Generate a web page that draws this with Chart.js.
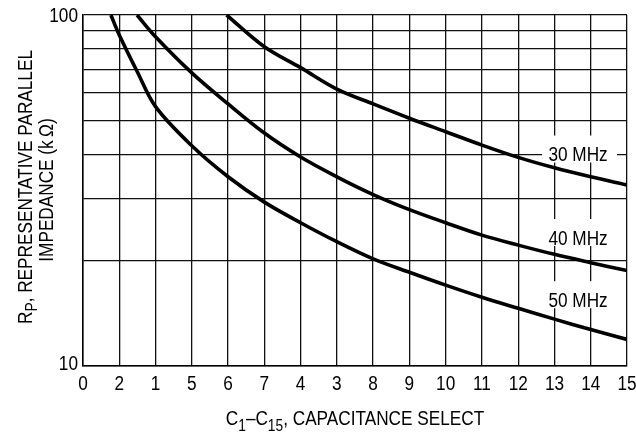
<!DOCTYPE html>
<html>
<head>
<meta charset="utf-8">
<script src="https://cdn.jsdelivr.net/npm/chart.js@4/dist/chart.umd.min.js"></script>
<style>
  html, body { margin: 0; padding: 0; background: #fff; }
  #wrap { width: 636px; height: 432px; }
</style>
</head>
<body>
<div id="wrap"><canvas id="myChart" width="636" height="432"></canvas></div>
<script>
'use strict';

// tick labels along the bottom (printed order from the datasheet)
const xTickLabels = ['0', '2', '1', '5', '6', '7', '4', '3', '8', '9', '10', '11', '12', '13', '14', '15'];
// decade grid of the log axis, only the ends get a label
const yTicks = [10, 20, 30, 40, 50, 60, 70, 80, 90, 100];
const yTickLabels = ['10', '', '', '', '', '', '', '', '', '100'];

// 30 MHz curve
const x30 = [3.96, 5, 6, 7, 8, 9, 10, 11, 12, 13, 14, 15];
const rp30 = [100, 81.2, 70.8, 61.5, 55.8, 50.8, 46.5, 42.6, 39.3, 36.7, 34.6, 32.8];

// 40 MHz curve
const x40 = [1.49, 2, 3, 4, 5, 6, 7, 8, 9, 10, 11, 12, 13, 14, 15];
const rp40 = [100, 86.7, 68.4, 55.8, 46.1, 39.4, 34.6, 30.8, 27.9, 25.6, 23.6, 22.1, 20.8, 19.7, 18.7];

// 50 MHz curve
const x50 = [0.77, 1, 1.5, 2, 3, 4, 5, 6, 7, 8, 9, 10, 11, 12, 13, 14, 15];
const rp50 = [100, 87.7, 68.8, 54.8, 42.4, 34.6, 29.3, 25.6, 22.6, 20.2, 18.5, 17.0, 15.7, 14.6, 13.6, 12.7, 11.9];

const curveNames = ['30 MHz', '40 MHz', '50 MHz'];
// where each curve name sits (x in chart units, y in kOhm)
const nameX = [13.65, 13.65, 13.65];
const nameY = [40.3, 23.3, 15.5];

const FONT = '"Liberation Sans", Arial, sans-serif';
const NARROW = 0.86;

// narrow text: the datasheet face is condensed, so squeeze Liberation Sans
function narrowText(c, text, x, y, size, align) {
  c.save();
  c.font = size + 'px ' + FONT;
  const w = c.measureText(text).width * NARROW;
  let left = x;
  if (align === 'center') left = x - w / 2;
  if (align === 'right') left = x - w;
  c.translate(left, y);
  c.scale(NARROW, 1);
  c.textAlign = 'left';
  c.fillText(text, 0, 0);
  c.restore();
  return w;
}

function runsWidth(c, runs, size) {
  let total = 0;
  runs.forEach(r => {
    c.font = (r[1] ? Math.round(size * 0.78) : size) + 'px ' + FONT;
    total += c.measureText(r[0]).width * NARROW;
  });
  return total;
}

// runs: [text, isSubscript], centred on x, baseline y
function drawRuns(c, runs, x, y, size) {
  let cx = x - runsWidth(c, runs, size) / 2;
  runs.forEach(r => {
    const s = r[1] ? Math.round(size * 0.78) : size;
    cx += narrowText(c, r[0], cx, r[1] ? y + size * 0.28 : y, s, 'left');
  });
}

function pts(xs, ys) {
  return xs.map((x, i) => ({ x: x, y: ys[i] }));
}

function curve(label, xs, ys) {
  return {
    label: label,
    data: pts(xs, ys),
    borderColor: '#000',
    borderWidth: 3.6,
    pointRadius: 0,
    fill: false,
    tension: 0.35
  };
}

// white boxes + curve names, drawn under the curves but over the grid
const curveNamePlugin = {
  id: 'curveNames',
  beforeDatasetsDraw(chart) {
    const c = chart.ctx;
    const xs = chart.scales.x, ys = chart.scales.y;
    c.save();
    c.textBaseline = 'alphabetic';
    curveNames.forEach((name, i) => {
      const px = xs.getPixelForValue(nameX[i]);
      const py = ys.getPixelForValue(nameY[i]);
      c.fillStyle = '#fff';
      c.fillRect(px - 36, py - 18, 75, 27);
      c.fillStyle = '#000';
      narrowText(c, name, px, py + 7.5, 20, 'center');
    });
    c.restore();
  }
};

// tick labels and axis titles
const textPlugin = {
  id: 'axisText',
  afterDraw(chart) {
    const c = chart.ctx;
    const xs = chart.scales.x, ys = chart.scales.y;
    c.save();
    c.fillStyle = '#000';
    c.textBaseline = 'alphabetic';

    xs.ticks.forEach(t => {
      const lbl = xTickLabels[t.value];
      if (lbl) narrowText(c, lbl, xs.getPixelForValue(t.value), 390, 20, 'center');
    });
    ys.ticks.forEach(t => {
      const lbl = yTickLabels[yTicks.indexOf(t.value)];
      const lift = t.value === 10 ? 3 : 0;
      if (lbl) narrowText(c, lbl, 78, ys.getPixelForValue(t.value) + 7 - lift, 20, 'right');
    });

    const cx = (chart.chartArea.left + chart.chartArea.right) / 2;
    drawRuns(c, [['C', false], ['1', true], ['\u2013C', false], ['15', true], [', CAPACITANCE SELECT', false]], cx, 425, 20);

    const cy = 187;
    c.save();
    c.translate(31.5, cy);
    c.rotate(-Math.PI / 2);
    drawRuns(c, [['R', false], ['P', true], [', REPRESENTATIVE PARALLEL', false]], 0, 0, 20);
    c.restore();
    c.save();
    c.translate(53, cy + 3);
    c.rotate(-Math.PI / 2);
    drawRuns(c, [['IMPEDANCE (k\u2009\u03A9)', false]], 0, 0, 20);
    c.restore();

    c.restore();
  }
};

const ctx = document.getElementById('myChart');

const myChart = new Chart(ctx, {
  type: 'line',
  data: {
    datasets: [
      curve(curveNames[0], x30, rp30),
      curve(curveNames[1], x40, rp40),
      curve(curveNames[2], x50, rp50)
    ]
  },
  options: {
    responsive: false,
    animation: false,
    clip: true,
    layout: { padding: { top: 15, right: 9, left: 0, bottom: 0 } },
    plugins: {
      legend: { display: false },
      tooltip: { enabled: false }
    },
    scales: {
      x: {
        type: 'linear',
        min: 0,
        max: 15,
        afterFit(scale) { scale.height = 66; },
        grid: { color: '#111', lineWidth: 1.3, drawTicks: false },
        border: { color: '#000', width: 1.5 },
        ticks: { stepSize: 1, display: false, autoSkip: false }
      },
      y: {
        type: 'logarithmic',
        min: 10,
        max: 100,
        afterFit(scale) { scale.width = 83; },
        afterBuildTicks(scale) { scale.ticks = yTicks.map(v => ({ value: v })); },
        grid: { color: '#111', lineWidth: 1.3, drawTicks: false },
        border: { color: '#000', width: 1.5 },
        ticks: { display: false, autoSkip: false }
      }
    }
  },
  plugins: [curveNamePlugin, textPlugin]
});
</script>
</body>
</html>
